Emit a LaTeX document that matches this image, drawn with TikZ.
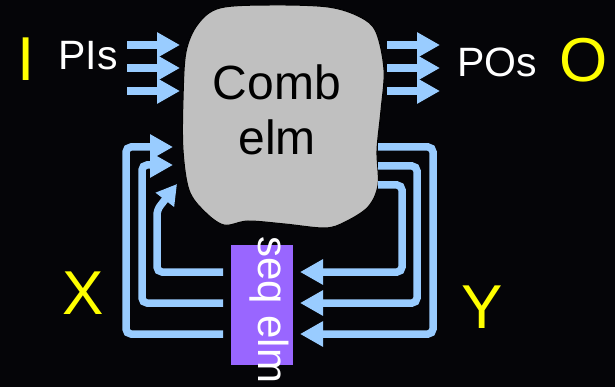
\documentclass[tikz,border=0pt]{standalone}
\usepackage{fontspec}
\setmainfont{Liberation Sans}
\usetikzlibrary{arrows.meta}
\definecolor{wire}{HTML}{99CCFF}
\definecolor{seqc}{HTML}{9966FF}
\definecolor{combc}{HTML}{C0C0C0}
\definecolor{lbl}{HTML}{FFFF00}
\definecolor{bg}{HTML}{050508}
\begin{document}
\begin{tikzpicture}[x=1pt,y=-1pt,
  wirearrow/.style={draw=wire, line width=7.5pt, rounded corners=5pt,
    -{Triangle[length=23pt,width=24pt]}},
  big/.style={text=lbl, font=\fontsize{62}{62}\selectfont, inner sep=0pt, anchor=base},
  pio/.style={text=white, font=\fontsize{41}{41}\selectfont, inner sep=0pt, anchor=base},
]
\useasboundingbox (0,0) rectangle (615,387);
\fill[bg] (0,0) rectangle (615,387);

% combinational blob
\draw[fill=combc, draw=black, line width=1pt]
  plot[smooth cycle, tension=0.55] coordinates {
    (198,24) (220,8) (270,5) (328,7) (360,17) (376,32) (384,70) (381,110)
    (377,150) (378,185) (368,207) (345,222) (325,228) (285,224) (248,221)
    (224,225) (204,211) (189,190) (183,150) (183,100) (186,52)};
\node (comb) [font=\fontsize{48}{55}\selectfont, align=center, inner sep=0pt, anchor=base]
  at (277,155) {Comb\\elm};

% sequential element
\node (seq) [fill=seqc, minimum width=62pt, minimum height=120pt, inner sep=0pt] at (262,305) {};
\node (seqtxt) [rotate=-90, anchor=base west, text=white, inner sep=0pt,
  font=\fontsize{42}{42}\selectfont] at (258,236) {seq elm};

% labels
\node (I) [big] at (26.5,81) {I};
\node (O) [big] at (583.5,82) {O};
\node (X) [big] at (83.5,314) {X};
\node (Y) [big] at (482.5,328) {Y};
\node (PIs) [pio] at (88,70) {PIs};
\node (POs) [pio] at (497.5,77) {POs};

% input arrows
\foreach \i/\y in {1/45,2/68,3/91}{
  \coordinate (pi\i) at (127,\y);
  \coordinate (ci\i) at (180,\y);
  \draw[wirearrow] (pi\i) -- (ci\i);
  \coordinate (co\i) at (387,\y);
  \coordinate (po\i) at (440,\y);
  \draw[wirearrow] (co\i) -- (po\i);
}

% feedback: comb -> seq (right side)
\coordinate (r1) at (378,147);
\coordinate (r2) at (378,166);
\coordinate (r3) at (378,185);
\coordinate (sin1) at (300,334);
\coordinate (sin2) at (300,303);
\coordinate (sin3) at (300,272);
\draw[wirearrow] (r1) -| (433,334) -- (sin1);
\draw[wirearrow] (r2) -| (417,303) -- (sin2);
\draw[wirearrow] (r3) -| (402,272) -- (sin3);

% feedback: seq -> comb (left side)
\coordinate (sout1) at (223,334);
\coordinate (sout2) at (223,303);
\coordinate (sout3) at (223,272);
\coordinate (l1) at (173,147);
\coordinate (l2) at (173,165);
\coordinate (l3) at (177,184);
\draw[wirearrow] (sout1) -| (126,147) -- (l1);
\draw[wirearrow] (sout2) -| (142,165) -- (l2);
\draw[wirearrow, -{Triangle[length=20pt,width=22pt]}] (sout3) -| (157,210) -- (l3);
\end{tikzpicture}
\end{document}
